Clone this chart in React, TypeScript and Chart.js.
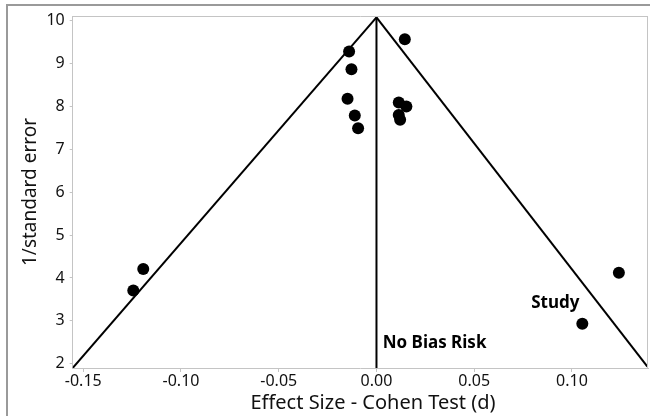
import React, { useEffect, useRef } from "react";
import { Chart, registerables } from "chart.js";

Chart.register(...registerables);

const studyX = [0.0145, -0.014, -0.0128, -0.0148, -0.0111, -0.0094, 0.0114, 0.0153, 0.0114, 0.0121, -0.1193, -0.1244, 0.124, 0.1053];
const studyY = [9.57, 9.28, 8.87, 8.18, 7.79, 7.49, 8.09, 8.0, 7.8, 7.69, 4.21, 3.71, 4.12, 2.93];

const apex = { x: 0, y: 10.08 };
const leftEnd = { x: -0.1554, y: 1.9 };
const rightEnd = { x: 0.1386, y: 1.93 };
const centerEnd = { x: 0, y: 1.9 };

const xTitle = "Effect Size - Cohen Test (d)";
const yTitle = "1/standard error";
const noBiasLabel = { text: "No Bias Risk", x: 0.0032, y: 2.37 };
const studyLabel = { text: "Study", x: 0.1038, y: 3.3 };

const X_MIN = -0.1554;
const X_MAX = 0.1389;
const Y_MIN = 1.9;
const Y_MAX = 10.11;

const FONT = "'Noto Sans', 'Open Sans', sans-serif";

export default function App() {
  const ref = useRef<HTMLCanvasElement | null>(null);

  useEffect(() => {
    if (!ref.current) return;
    const decor = {
      id: "decor",
      beforeDraw(chart: any) {
        const ctx = chart.ctx;
        ctx.save();
        ctx.fillStyle = "#ffffff";
        ctx.fillRect(0, 0, chart.width, chart.height);
        ctx.strokeStyle = "#9a9a9a";
        ctx.lineWidth = 2;
        ctx.beginPath();
        ctx.moveTo(6, 5);
        ctx.lineTo(650, 5);
        ctx.moveTo(7, 5);
        ctx.lineTo(7, 416);
        ctx.stroke();
        ctx.restore();
      },
      afterDraw(chart: any) {
        const ctx = chart.ctx;
        const a = chart.chartArea;
        const xs = chart.scales.x;
        const ys = chart.scales.y;
        ctx.save();
        ctx.strokeStyle = "#c4c4c4";
        ctx.lineWidth = 1;
        ctx.beginPath();
        ctx.moveTo(a.left, a.top + 0.5);
        ctx.lineTo(a.right, a.top + 0.5);
        ctx.moveTo(a.right - 0.5, a.top);
        ctx.lineTo(a.right - 0.5, a.bottom);
        ctx.stroke();

        ctx.fillStyle = "#111111";
        ctx.font = `20px ${FONT}`;
        ctx.textAlign = "center";
        ctx.textBaseline = "middle";
        ctx.fillText(xTitle, 373, 403);
        ctx.save();
        ctx.font = `19px ${FONT}`;
        ctx.translate(31, (a.top + a.bottom) / 2);
        ctx.rotate(-Math.PI / 2);
        ctx.fillText(yTitle, 0, 0);
        ctx.restore();

        ctx.font = `bold 17px ${FONT}`;
        ctx.fillStyle = "#000000";
        ctx.textBaseline = "alphabetic";
        ctx.textAlign = "left";
        ctx.fillText(noBiasLabel.text, xs.getPixelForValue(noBiasLabel.x), ys.getPixelForValue(noBiasLabel.y));
        ctx.textAlign = "right";
        ctx.fillText(studyLabel.text, xs.getPixelForValue(studyLabel.x), ys.getPixelForValue(studyLabel.y));
        ctx.restore();
      },
    };

    const points = studyX.map((x, i) => ({ x, y: studyY[i] }));
    const lineDs = (data: any[]) => ({
      type: "line" as const,
      data,
      showLine: true,
      borderColor: "#000000",
      borderWidth: 2,
      pointRadius: 0,
      fill: false,
      order: 2,
    });

    const chart = new Chart(ref.current, {
      type: "scatter",
      data: {
        datasets: [
          {
            data: points,
            backgroundColor: "#000000",
            borderColor: "#000000",
            borderWidth: 0,
            pointRadius: 6,
            pointHoverRadius: 6,
            order: 0,
          } as any,
          lineDs([leftEnd, apex]) as any,
          lineDs([apex, rightEnd]) as any,
          lineDs([apex, centerEnd]) as any,
        ],
      },
      options: {
        animation: false,
        responsive: false,
        devicePixelRatio: 1,
        events: [],
        layout: { autoPadding: false, padding: { left: 0, top: 16, right: 2, bottom: 0 } },
        plugins: { legend: { display: false }, tooltip: { enabled: false } },
        scales: {
          x: {
            type: "linear",
            min: X_MIN,
            max: X_MAX,
            afterFit(scale: any) {
              scale.height = 48;
            },
            border: { display: true, color: "#c4c4c4", width: 1 },
            grid: { display: true, drawOnChartArea: false, drawTicks: true, tickLength: 4, color: "#c4c4c4" },
            ticks: {
              stepSize: 0.05,
              includeBounds: false,
              color: "#111111",
              font: { family: FONT, size: 16 },
              padding: 0,
              maxRotation: 0,
              callback: (v: any) => Number(v).toFixed(2),
            },
          },
          y: {
            type: "linear",
            min: Y_MIN,
            max: Y_MAX,
            afterFit(scale: any) {
              scale.width = 72.7;
            },
            border: { display: true, color: "#c4c4c4", width: 1 },
            grid: { display: true, drawOnChartArea: false, drawTicks: true, tickLength: 3, color: "#c4c4c4" },
            ticks: {
              stepSize: 1,
              includeBounds: false,
              color: "#111111",
              font: { family: FONT, size: 16 },
              padding: 5,
              callback: (v: any) => String(v),
            },
          },
        },
      },
      plugins: [decor],
    } as any);
    return () => chart.destroy();
  }, []);

  return (
    <div style={{ position: "fixed", left: 0, top: 0, width: 650, height: 416, background: "#fff" }}>
      <canvas ref={ref} width={650} height={416} style={{ display: "block", width: 650, height: 416 }} />
    </div>
  );
}
